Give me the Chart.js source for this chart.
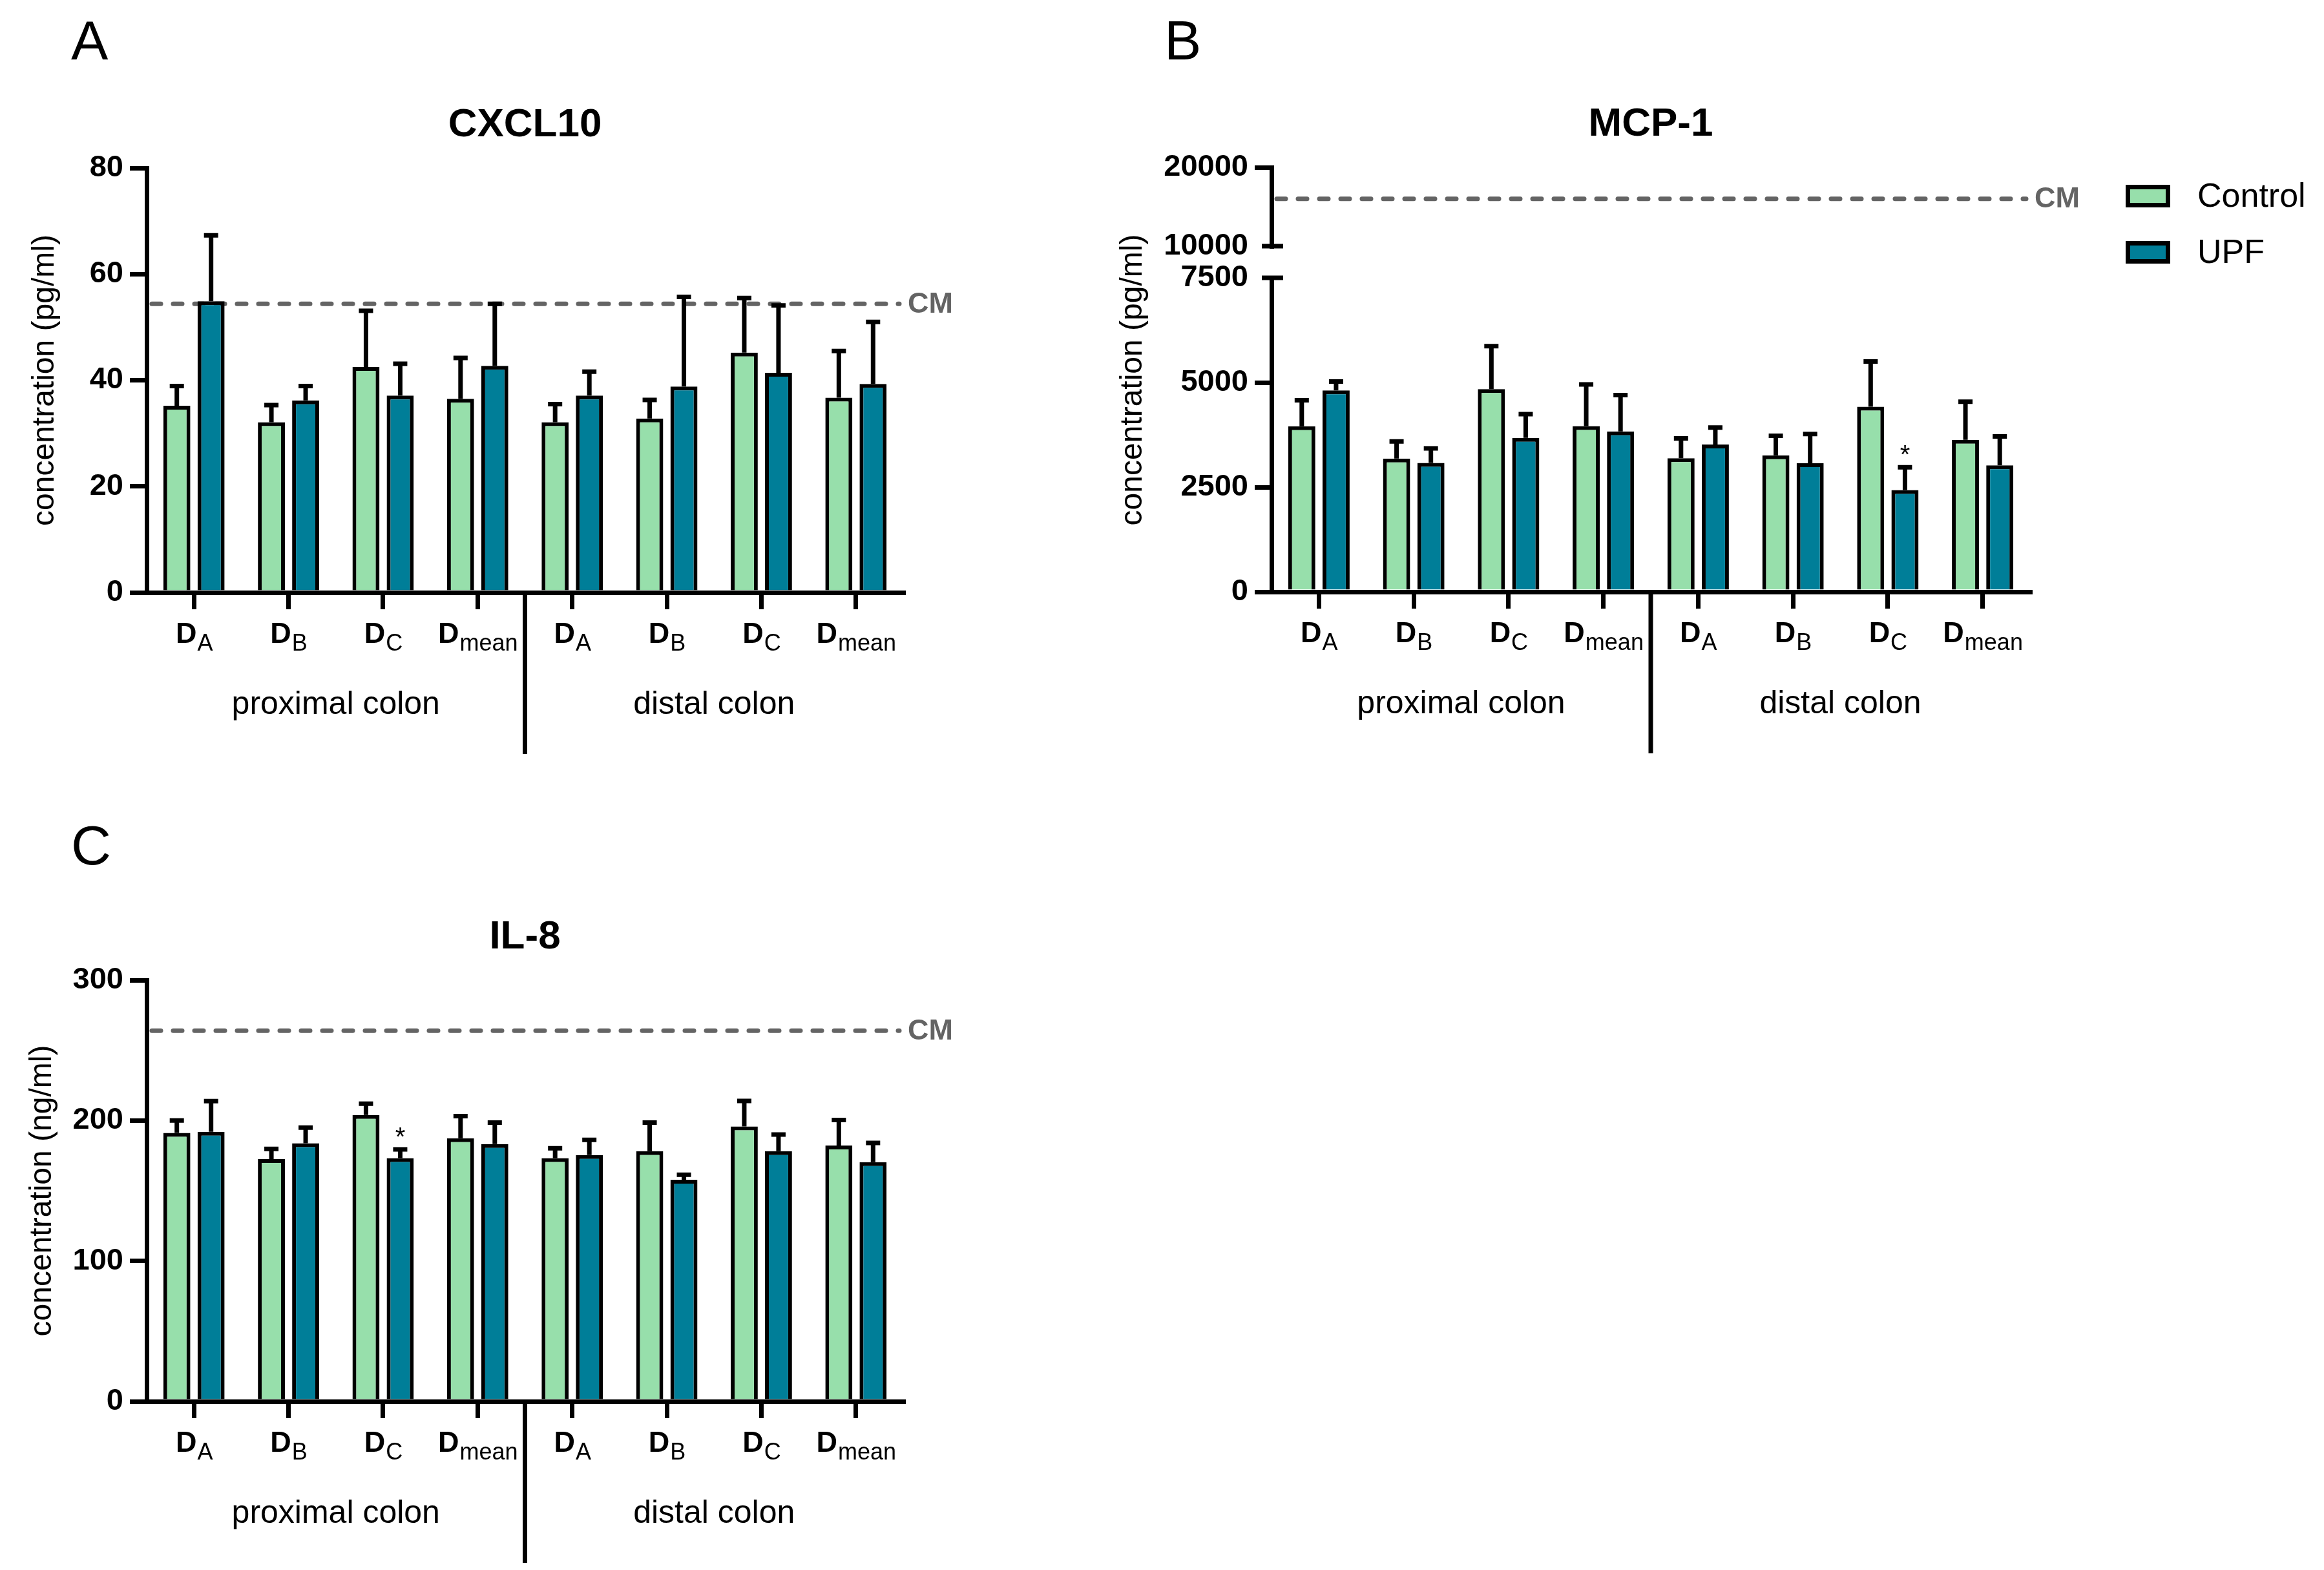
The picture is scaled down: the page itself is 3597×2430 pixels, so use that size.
<!DOCTYPE html>
<html>
<head>
<meta charset="utf-8">
<script src="https://cdn.jsdelivr.net/npm/chart.js@4.4.1/dist/chart.umd.min.js"></script>
<style>
  html, body { margin: 0; padding: 0; background: #fff; }
  body { width: 3597px; height: 2430px; position: relative; overflow: hidden; }
  canvas { position: absolute; }
</style>
</head>
<body>
<canvas id="cA" width="1700" height="1250" style="left:0px;top:0px"></canvas>
<canvas id="cB1" width="1897" height="440" style="left:1700px;top:0px"></canvas>
<canvas id="cB2" width="1897" height="950" style="left:1700px;top:300px"></canvas>
<canvas id="cC" width="1700" height="1180" style="left:0px;top:1250px"></canvas>
<script>
const FONT = '"Liberation Sans", Arial, Helvetica, sans-serif';
const CONTROL_COLOR = '#97dfab';
const UPF_COLOR = '#007e98';
const CM_COLOR = '#646464';

// categories: "D" + subscript
const subLabels = ['A', 'B', 'C', 'mean', 'A', 'B', 'C', 'mean'];
const regionLabels = ['proximal colon', 'distal colon'];
const seriesNames = ['Control', 'UPF'];

// CXCL10 (pg/ml)
const cxclControl = [35.2, 32.1, 42.5, 36.5, 32.1, 32.8, 45.2, 36.7];
const cxclControlSd = [3.7, 3.2, 10.6, 7.7, 3.4, 3.5, 10.3, 8.8];
const cxclUpf = [54.9, 36.2, 37.1, 42.7, 37.1, 38.8, 41.4, 39.3];
const cxclUpfSd = [12.4, 2.7, 6.0, 11.7, 4.5, 16.9, 12.7, 11.7];
const cxclCM = 54.4;
const cxclTicks = [0, 80, 20];

// MCP-1 (pg/ml), broken axis
const mcpControl = [3955, 3181, 4841, 3960, 3190, 3260, 4420, 3630];
const mcpControlSd = [620, 412, 1026, 995, 475, 465, 1080, 910];
const mcpUpf = [4812, 3080, 3677, 3830, 3520, 3070, 2430, 3020];
const mcpUpfSd = [213, 347, 567, 870, 405, 700, 545, 690];
const mcpCM = 16000;
const mcpTicksLow = [0, 7500, 2500];
const mcpTicksHigh = [10000, 20000, 10000];

// IL-8 (ng/ml)
const il8Control = [191.2, 172.6, 204.0, 187.4, 173.2, 178.2, 195.8, 182.2];
const il8ControlSd = [8.8, 7.2, 8.0, 15.8, 7.0, 20.4, 18.2, 18.2];
const il8Upf = [192.0, 183.8, 173.2, 183.2, 175.4, 157.8, 178.2, 170.4];
const il8UpfSd = [21.8, 11.2, 6.2, 15.4, 10.8, 3.6, 11.8, 13.6];
const il8CM = 264;
const il8Ticks = [0, 300, 100];

Chart.defaults.color = '#000';
Chart.defaults.font.family = FONT;

function drawCatLabel(c, x, y, sub) {
  c.font = 'bold 45px ' + FONT;
  const wD = c.measureText('D').width;
  c.font = '36px ' + FONT;
  const wS = c.measureText(sub).width;
  const x0 = x - (wD + wS) / 2;
  c.textAlign = 'left';
  c.textBaseline = 'alphabetic';
  c.font = 'bold 45px ' + FONT;
  c.fillText('D', x0, y);
  c.font = '36px ' + FONT;
  c.fillText(sub, x0 + wD + 1, y + 12);
}

const panelPlugin = {
  id: 'panel',
  beforeDatasetsDraw(chart, args, o) {
    if (o.cm == null) return;
    const a = chart.chartArea, c = chart.ctx;
    const y = chart.scales.y.getPixelForValue(o.cm);
    c.save();
    c.strokeStyle = CM_COLOR;
    c.lineWidth = 7;
    c.lineCap = 'round';
    c.setLineDash([14, 19]);
    c.beginPath();
    c.moveTo(a.left + 8, y);
    c.lineTo(a.right - 6, y);
    c.stroke();
    c.restore();
  },
  afterDatasetsDraw(chart, args, o) {
    const c = chart.ctx, ys = chart.scales.y;
    c.save();
    c.strokeStyle = '#000';
    c.lineWidth = 7;
    chart.data.datasets.forEach((ds, di) => {
      if (!ds.sd) return;
      chart.getDatasetMeta(di).data.forEach((bar, i) => {
        const top = ys.getPixelForValue(ds.data[i] + ds.sd[i]);
        c.beginPath();
        c.moveTo(bar.x, bar.y);
        c.lineTo(bar.x, top);
        c.moveTo(bar.x - 11, top);
        c.lineTo(bar.x + 11, top);
        c.stroke();
      });
    });
    (o.stars || []).forEach(([di, i]) => {
      const ds = chart.data.datasets[di];
      const bar = chart.getDatasetMeta(di).data[i];
      const top = ys.getPixelForValue(ds.data[i] + ds.sd[i]);
      c.fillStyle = '#000';
      c.font = '40px ' + FONT;
      c.textAlign = 'center';
      c.textBaseline = 'alphabetic';
      c.fillText('*', bar.x, top - 6);
    });
    c.restore();
  },
  afterDraw(chart, args, o) {
    const a = chart.chartArea, c = chart.ctx;
    c.save();
    c.fillStyle = '#000';
    if (o.letter) {
      c.font = '86px ' + FONT;
      c.textAlign = 'left';
      c.textBaseline = 'alphabetic';
      c.fillText(o.letter.text, o.letter.x, o.letter.y);
    }
    if (o.title) {
      c.font = 'bold 62px ' + FONT;
      c.textAlign = 'center';
      c.textBaseline = 'alphabetic';
      c.fillText(o.title, (a.left + a.right) / 2, o.titleY != null ? o.titleY : a.top - 49);
    }
    if (o.yTitle) {
      const cy = o.yTitleY != null ? o.yTitleY : (a.top + a.bottom) / 2;
      c.translate(o.yTitleX, cy);
      c.rotate(-Math.PI / 2);
      c.font = '48px ' + FONT;
      c.textAlign = 'center';
      c.textBaseline = 'middle';
      c.fillText(o.yTitle, 0, 0);
      c.setTransform(1, 0, 0, 1, 0, 0);
    }
    if (o.cm != null) {
      const y = chart.scales.y.getPixelForValue(o.cm);
      c.fillStyle = CM_COLOR;
      c.font = 'bold 45px ' + FONT;
      c.textAlign = 'left';
      c.textBaseline = 'middle';
      c.fillText('CM', a.right + 7, y + 1);
      c.fillStyle = '#000';
    }
    if (o.cats) {
      const xs = chart.scales.x;
      subLabels.forEach((s, i) => drawCatLabel(c, xs.getPixelForValue(i), a.bottom + 78, s));
      const mid = (a.left + a.right) / 2;
      c.font = '50px ' + FONT;
      c.textAlign = 'center';
      c.textBaseline = 'alphabetic';
      c.fillText(regionLabels[0], (a.left + mid) / 2, a.bottom + 188);
      c.fillText(regionLabels[1], (mid + a.right) / 2, a.bottom + 188);
      c.strokeStyle = '#000';
      c.lineWidth = 7;
      c.beginPath();
      c.moveTo(mid, a.bottom + 3);
      c.lineTo(mid, a.bottom + 250);
      c.stroke();
    }
    c.strokeStyle = '#000';
    c.lineWidth = 7;
    if (o.breakBottom) {
      c.beginPath();
      c.moveTo(a.left - 15, a.bottom);
      c.lineTo(a.left + 18, a.bottom);
      c.stroke();
    }
    if (o.breakTop) {
      c.beginPath();
      c.moveTo(a.left - 15, a.top);
      c.lineTo(a.left + 18, a.top);
      c.stroke();
    }
    if (o.legend) {
      const colors = [CONTROL_COLOR, UPF_COLOR];
      seriesNames.forEach((name, i) => {
        const by = o.legend.y + i * o.legend.step;
        c.fillStyle = '#000';
        c.fillRect(o.legend.x, by, 69, 35);
        c.fillStyle = colors[i];
        c.fillRect(o.legend.x + 7, by + 7, 55, 21);
        c.fillStyle = '#000';
        c.font = '52px ' + FONT;
        c.textAlign = 'left';
        c.textBaseline = 'alphabetic';
        c.fillText(name, o.legend.x + 111, by + 34);
      });
    }
    c.restore();
  }
};
Chart.register(panelPlugin);

function makePanel(id, area, ticks, series, opts) {
  const cv = document.getElementById(id);
  const W = cv.width, H = cv.height;
  const showX = opts.showX !== false;
  const breakValue = opts.breakTick;
  const datasets = series ? [
    { label: seriesNames[0], data: series[0], sd: series[1], backgroundColor: CONTROL_COLOR },
    { label: seriesNames[1], data: series[2], sd: series[3], backgroundColor: UPF_COLOR }
  ].map(d => Object.assign(d, {
    borderColor: '#000', borderWidth: 6, borderSkipped: 'start',
    categoryPercentage: 0.724, barPercentage: 0.79
  })) : [];
  return new Chart(cv, {
    type: 'bar',
    data: { labels: subLabels.map(s => 'D' + s), datasets: datasets },
    options: {
      responsive: false,
      animation: false,
      devicePixelRatio: 1,
      layout: { padding: { left: 0, top: area.top, right: W - area.right, bottom: 0 } },
      plugins: { legend: { display: false }, tooltip: { enabled: false }, panel: opts.panel },
      scales: {
        x: {
          display: showX,
          offset: true,
          grid: { display: true, drawOnChartArea: false, drawTicks: true, offset: false,
                  tickLength: 26, tickWidth: 7, tickColor: '#000', color: '#000', lineWidth: 7 },
          border: { display: true, color: '#000', width: 7 },
          ticks: { display: false },
          afterFit: s => { s.height = H - area.bottom; }
        },
        y: {
          min: ticks[0], max: ticks[1],
          ticks: { stepSize: ticks[2], padding: 10, color: '#000',
                   font: { family: FONT, size: 47, weight: 'bold' },
                   callback: v => String(v) },
          grid: { display: true, drawOnChartArea: false, drawTicks: true, tickLength: 26, tickWidth: 7,
                  tickColor: ctx => (ctx.tick && ctx.tick.value === breakValue) ? 'rgba(0,0,0,0)' : '#000',
                  color: '#000', lineWidth: 7 },
          border: { display: true, color: '#000', width: 7 },
          afterFit: s => { s.width = area.left; }
        }
      }
    }
  });
}

makePanel('cA', { left: 227, top: 260, right: 1398, bottom: 917 }, cxclTicks,
  [cxclControl, cxclControlSd, cxclUpf, cxclUpfSd],
  { panel: { letter: { text: 'A', x: 110, y: 92 }, title: 'CXCL10', yTitle: 'concentration (pg/ml)',
             yTitleX: 70, cm: cxclCM, cats: true, stars: [] } });

makePanel('cB1', { left: 268, top: 259, right: 1442, bottom: 381 }, mcpTicksHigh, null,
  { showX: false, breakTick: 10000,
    panel: { letter: { text: 'B', x: 102, y: 92 }, title: 'MCP-1', cm: mcpCM, breakBottom: true,
             legend: { x: 1590, y: 286, step: 87 } } });

makePanel('cB2', { left: 268, top: 130, right: 1442, bottom: 616 }, mcpTicksLow,
  [mcpControl, mcpControlSd, mcpUpf, mcpUpfSd],
  { breakTick: 7500,
    panel: { yTitle: 'concentration (pg/ml)', yTitleX: 54, yTitleY: 288, cats: true, breakTop: true,
             stars: [[1, 6]] } });

makePanel('cC', { left: 227, top: 267, right: 1398, bottom: 919 }, il8Ticks,
  [il8Control, il8ControlSd, il8Upf, il8UpfSd],
  { panel: { letter: { text: 'C', x: 110, y: 88 }, title: 'IL-8', yTitle: 'concentration (ng/ml)',
             yTitleX: 66, cm: il8CM, cats: true, stars: [[1, 2]] } });
</script>
</body>
</html>
